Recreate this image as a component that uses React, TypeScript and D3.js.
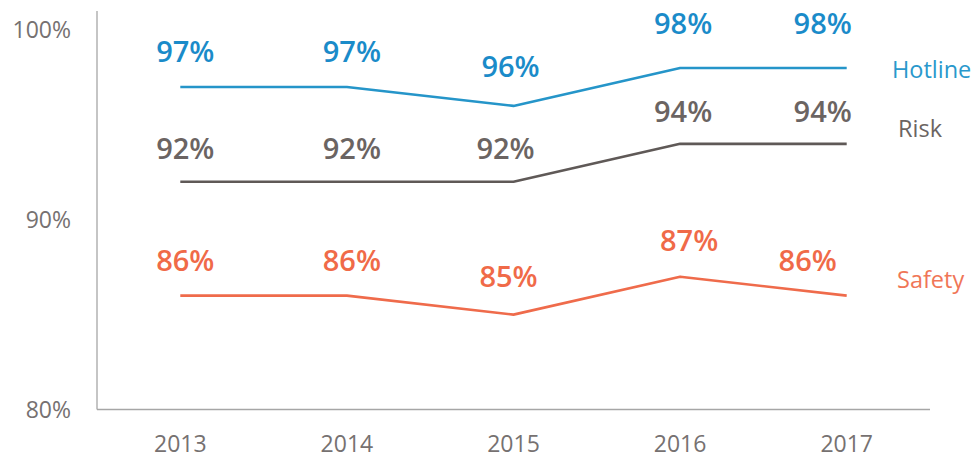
import React from "react";
import * as d3 from "d3";

const years = ["2013", "2014", "2015", "2016", "2017"];
const hotline = [97, 97, 96, 98, 98];
const risk = [92, 92, 92, 94, 94];
const safety = [86, 86, 85, 87, 86];
const yTicks = [80, 90, 100];

const seriesList = [
  { name: "Hotline", values: hotline, line: "#2595c9", text: "#1a8bc9", nameColor: "#2a98cc", nameDx: 892, nameDy: 10 },
  { name: "Risk", values: risk, line: "#5f5957", text: "#6b6462", nameColor: "#6b6462", nameDx: 898, nameDy: -7 },
  { name: "Safety", values: safety, line: "#ef6b4b", text: "#f06a48", nameColor: "#f07657", nameDx: 897, nameDy: -8 },
];

// label nudges [dx, dy] per series per year
const nudges: Record<string, [number, number][]> = {
  Hotline: [[5, 0], [5, 0], [-3, -4], [3, -9], [-24, -9]],
  Risk: [[5, 2], [5, 2], [-8, 2], [3, 3], [-24, 3]],
  Safety: [[5, 0], [5, 0], [-5, -3], [9, -1], [-39, 0]],
};

const W = 972;
const H = 460;
const FONT = "'Open Sans', 'Noto Sans', sans-serif";

export default function App() {
  const x = d3.scaleBand<string>().domain(years).range([97, 930]).paddingInner(0).paddingOuter(0);
  const cx = (yr: string) => (x(yr) as number) + x.bandwidth() / 2;
  const y = d3.scaleLinear().domain([80, 100]).range([409.5, 30]);
  const line = d3
    .line<number>()
    .x((_, i) => cx(years[i]))
    .y((v) => y(v))
    .curve(d3.curveLinear);

  return (
    <svg width={W} height={H} style={{ position: "absolute", left: 0, top: 0, background: "#fff" }} fontFamily={FONT}>
      <line x1={97} x2={97} y1={11} y2={y(80)} stroke="#a6a6a6" strokeWidth={1.3} />
      <line x1={97} x2={930} y1={y(80)} y2={y(80)} stroke="#a6a6a6" strokeWidth={1.3} />
      {yTicks.map((t) => (
        <text key={t} x={71} y={y(t)} dy="0.35em" textAnchor="end" fontSize={23} fill="#767171">
          {t}%
        </text>
      ))}
      {years.map((yr) => (
        <text key={yr} x={cx(yr)} y={452} textAnchor="middle" fontSize={23} fill="#767171">
          {yr}
        </text>
      ))}
      {seriesList.map((s) => (
        <g key={s.name}>
          <path d={line(s.values) || ""} fill="none" stroke={s.line} strokeWidth={2.6} strokeLinejoin="round" />
          {s.values.map((v, i) => {
            const [dx, dy] = nudges[s.name][i];
            return (
              <text
                key={i}
                x={cx(years[i]) + dx}
                y={y(v) - 25 + dy}
                textAnchor="middle"
                fontSize={29}
                fontWeight={600}
                fill={s.text}
              >
                {v}%
              </text>
            );
          })}
          <text x={s.nameDx} y={y(s.values[s.values.length - 1]) + s.nameDy} fontSize={23.5} fill={s.nameColor}>
            {s.name}
          </text>
        </g>
      ))}
    </svg>
  );
}
